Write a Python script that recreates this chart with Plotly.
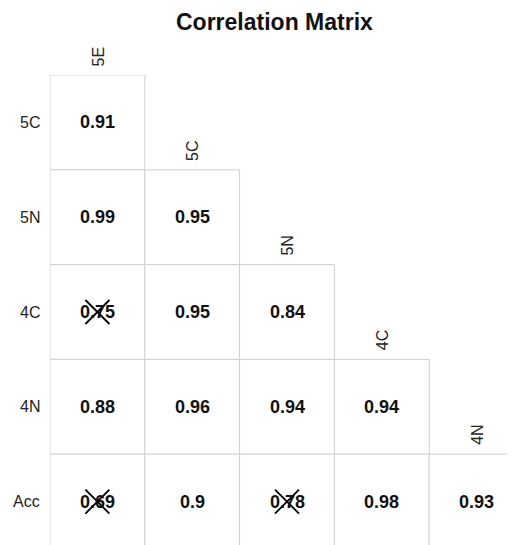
import plotly.graph_objects as go

row_labels = ["5C", "5N", "4C", "4N", "Acc"]
col_labels = ["5E", "5C", "5N", "4C", "4N"]
values = [
    [0.91],
    [0.99, 0.95],
    [0.75, 0.95, 0.84],
    [0.88, 0.96, 0.94, 0.94],
    [0.69, 0.90, 0.78, 0.98, 0.93],
]
crossed = [
    [False],
    [False, False],
    [True, False, False],
    [False, False, False, False],
    [True, False, True, False, False],
]

OFF = 8  # browser body margin
W, H = 515 - OFF, 545 - OFF
L, T = 50 - OFF, 75 - OFF
CELL = 94.8
FONT = "Liberation Sans, Arial, sans-serif"
PH = H - T

fig = go.Figure()
shapes = []
annotations = []
cx, cy = [], []
for i, row in enumerate(values):
    for j, v in enumerate(row):
        shapes.append(dict(type="rect", xref="x", yref="y", x0=j, x1=j + 1, y0=i, y1=i + 1,
                           line=dict(color="#d0d0d0", width=1), fillcolor="white", layer="below"))
        annotations.append(dict(x=j + 0.5, y=i + 0.5, xref="x", yref="y", text=f"<b>{v:g}</b>",
                                showarrow=False, font=dict(size=18, color="#111", family=FONT)))
        if crossed[i][j]:
            cx.append(j + 0.5)
            cy.append(i + 0.5)
    annotations.append(dict(x=0, y=i + 0.5, xref="x", yref="y", text=row_labels[i], showarrow=False,
                            xanchor="right", xshift=-8, font=dict(size=16, color="#222", family=FONT)))

for j, lab in enumerate(col_labels):
    annotations.append(dict(x=j + 0.5, y=j, xref="x", yref="y", text=lab, showarrow=False,
                            textangle=-90, yanchor="bottom", yshift=7, xshift=1,
                            font=dict(size=16, color="#222", family=FONT)))

# title centred at (274, 22) in window pixels
annotations.append(dict(x=(274 - 50) / (W - L), y=1 + (75 - 22) / PH, xref="paper", yref="paper",
                        text="<b>Correlation Matrix</b>", showarrow=False,
                        xanchor="center", yanchor="middle",
                        font=dict(size=23, color="#111", family=FONT)))

fig.add_trace(go.Scatter(x=cx, y=cy, mode="markers", hoverinfo="skip",
                         marker=dict(symbol="x-thin", size=24, color="black",
                                     line=dict(color="black", width=1.8))))

fig.update_layout(
    width=W, height=H,
    margin=dict(l=L, t=T, r=0, b=0, pad=0),
    paper_bgcolor="white", plot_bgcolor="white",
    showlegend=False,
    shapes=shapes, annotations=annotations,
    xaxis=dict(range=[0, (W - L) / CELL], visible=False, fixedrange=True),
    yaxis=dict(range=[PH / CELL, 0], visible=False, fixedrange=True),
)
fig.write_html("out.html")
